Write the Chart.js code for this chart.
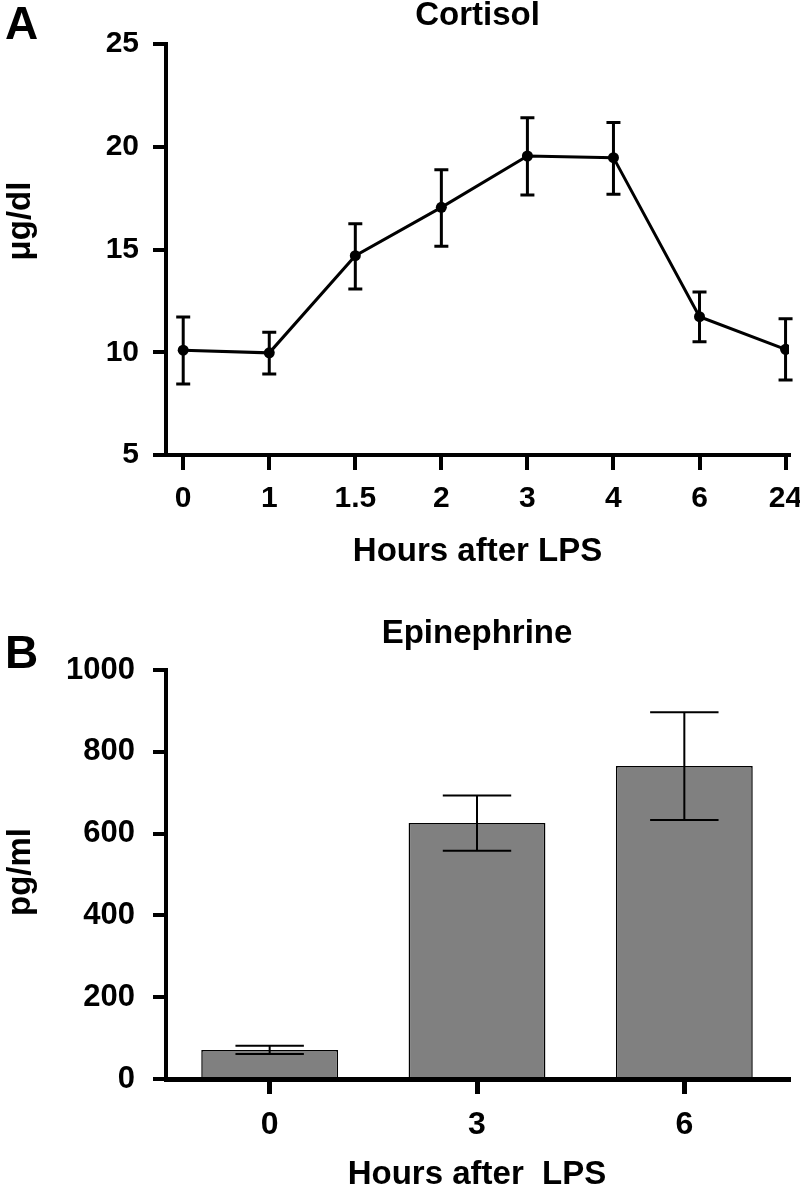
<!DOCTYPE html>
<html>
<head>
<meta charset="utf-8">
<script src="https://cdn.jsdelivr.net/npm/chart.js@4.4.1/dist/chart.umd.min.js"></script>
<style>
  html, body { margin: 0; padding: 0; background: #fff; overflow: hidden; }
  body { width: 800px; height: 1189px; position: relative; font-family: "Liberation Sans", Arial, sans-serif; }
  .panel { position: absolute; left: 0; width: 800px; height: 600px; }
  .letter { position: absolute; left: 5px; font-weight: bold; font-size: 46px; line-height: 46px; z-index: 2; }
</style>
</head>
<body>
<div class="panel" style="top:0"><canvas id="cortisolChart" width="800" height="600"></canvas></div>
<div class="panel" style="top:600px"><canvas id="epiChart" width="800" height="600"></canvas></div>
<div class="letter" style="top:0px">A</div>
<div class="letter" style="top:629px">B</div>
<script>
// Panel A - cortisol (ug/dl), mean with error bar ends
const cortisolHours = ['0', '1', '1.5', '2', '3', '4', '6', '24'];
const cortisolMean = [10.1, 9.97, 14.7, 17.05, 19.55, 19.47, 11.73, 10.14];
const cortisolHigh = [11.72, 10.97, 16.25, 18.88, 21.41, 21.18, 12.93, 11.63];
const cortisolLow = [8.45, 8.94, 13.08, 15.16, 17.65, 17.69, 10.51, 8.65];

// Panel B - epinephrine (pg/ml)
const epiHours = ['0', '3', '6'];
const epiMean = [71, 626, 765];
const epiHigh = [81, 693, 897];
const epiLow = [61, 558, 633];

const FONT = '"Liberation Sans", Arial, sans-serif';
const bold = size => ({ family: FONT, size: size, weight: 'bold' });

// draws the error bars on top of the dataset
function errorBars(high, low, lineWidth, capHalf) {
    return {
        id: 'errorBars',
        afterDatasetsDraw(chart) {
            const ctx = chart.ctx;
            const y = chart.scales.y;
            ctx.save();
            ctx.strokeStyle = '#000';
            ctx.lineWidth = lineWidth;
            chart.getDatasetMeta(0).data.forEach((el, i) => {
                const hi = y.getPixelForValue(high[i]);
                const lo = y.getPixelForValue(low[i]);
                const cap = capHalf || el.width / 4;
                ctx.beginPath();
                ctx.moveTo(el.x, hi); ctx.lineTo(el.x, lo);
                ctx.moveTo(el.x - cap, hi); ctx.lineTo(el.x + cap, hi);
                ctx.moveTo(el.x - cap, lo); ctx.lineTo(el.x + cap, lo);
                ctx.stroke();
            });
            ctx.restore();
        }
    };
}

// chart title centred over the plot area, rotated y label
function panelText(title, titleOffset, yLabel, yLabelY) {
    return {
        id: 'panelText',
        afterDraw(chart) {
            const { ctx, chartArea } = chart;
            ctx.save();
            ctx.fillStyle = '#000';
            ctx.font = 'bold 33px ' + FONT;
            ctx.textAlign = 'center';
            ctx.textBaseline = 'middle';
            ctx.fillText(title, (chartArea.left + chartArea.right) / 2, chartArea.top - titleOffset);
            ctx.translate(21, yLabelY);
            ctx.rotate(-Math.PI / 2);
            ctx.fillText(yLabel, 0, 0);
            ctx.restore();
        }
    };
}

new Chart(document.getElementById('cortisolChart'), {
    type: 'line',
    data: {
        datasets: [{
            data: cortisolMean.map((v, i) => ({ x: i, y: v })),
            borderColor: '#000',
            borderWidth: 3,
            pointRadius: 5.5,
            pointBackgroundColor: '#000',
            pointBorderWidth: 0,
            tension: 0
        }]
    },
    options: {
        responsive: false,
        animation: false,
        layout: { padding: { top: 44, right: 11, left: 0, bottom: 0 } },
        plugins: { legend: { display: false }, tooltip: { enabled: false } },
        scales: {
            x: {
                type: 'linear',
                min: -0.2,
                max: 7.04,
                afterBuildTicks: s => { s.ticks = cortisolHours.map((_, i) => ({ value: i })); },
                afterFit: s => { s.height = 145; s.paddingLeft = 0; s.paddingRight = 0; },
                ticks: {
                    callback: (v, i) => cortisolHours[i],
                    color: '#000', font: bold(30), padding: 11,
                    maxRotation: 0, autoSkip: false
                },
                grid: { drawOnChartArea: false, tickLength: 15, lineWidth: 4, tickColor: '#000' },
                border: { width: 4, color: '#000' },
                title: {
                    display: true, text: 'Hours after LPS', color: '#000',
                    font: bold(33), padding: { top: 0, bottom: 28 }
                }
            },
            y: {
                min: 5,
                max: 25,
                afterFit: s => { s.width = 166; },
                ticks: { stepSize: 5, color: '#000', font: bold(30), padding: 14, callback: v => String(v) },
                grid: { drawOnChartArea: false, tickLength: 13, lineWidth: 4, tickColor: '#000' },
                border: { width: 4, color: '#000' }
            }
        }
    },
    plugins: [errorBars(cortisolHigh, cortisolLow, 3, 7), panelText('Cortisol', 28, 'μg/dl', 221)]
});

new Chart(document.getElementById('epiChart'), {
    type: 'bar',
    data: {
        labels: epiHours,
        datasets: [{
            data: epiMean,
            backgroundColor: '#808080',
            borderColor: '#000',
            borderWidth: 1.5,
            barPercentage: 0.66,
            categoryPercentage: 1
        }]
    },
    options: {
        responsive: false,
        animation: false,
        layout: { padding: { top: 70, right: 12, left: 0, bottom: 0 } },
        plugins: { legend: { display: false }, tooltip: { enabled: false } },
        scales: {
            x: {
                afterFit: s => { s.height = 121; },
                ticks: { color: '#000', font: bold(32), padding: 12, maxRotation: 0 },
                grid: { offset: false, drawOnChartArea: false, tickLength: 15, lineWidth: 5, tickColor: '#000' },
                border: { width: 5, color: '#000' },
                title: {
                    display: true, text: 'Hours after  LPS', color: '#000',
                    font: bold(33), padding: { top: 0, bottom: 5 }
                }
            },
            y: {
                min: 0,
                max: 1000,
                afterFit: s => { s.width = 166; },
                ticks: { stepSize: 200, color: '#000', font: bold(31), padding: 18, callback: v => String(v) },
                grid: { drawOnChartArea: false, tickLength: 13, lineWidth: 4, tickColor: '#000' },
                border: { width: 4, color: '#000' }
            }
        }
    },
    plugins: [errorBars(epiHigh, epiLow, 2), panelText('Epinephrine', 36.5, 'pg/ml', 272)]
});
</script>
</body>
</html>
